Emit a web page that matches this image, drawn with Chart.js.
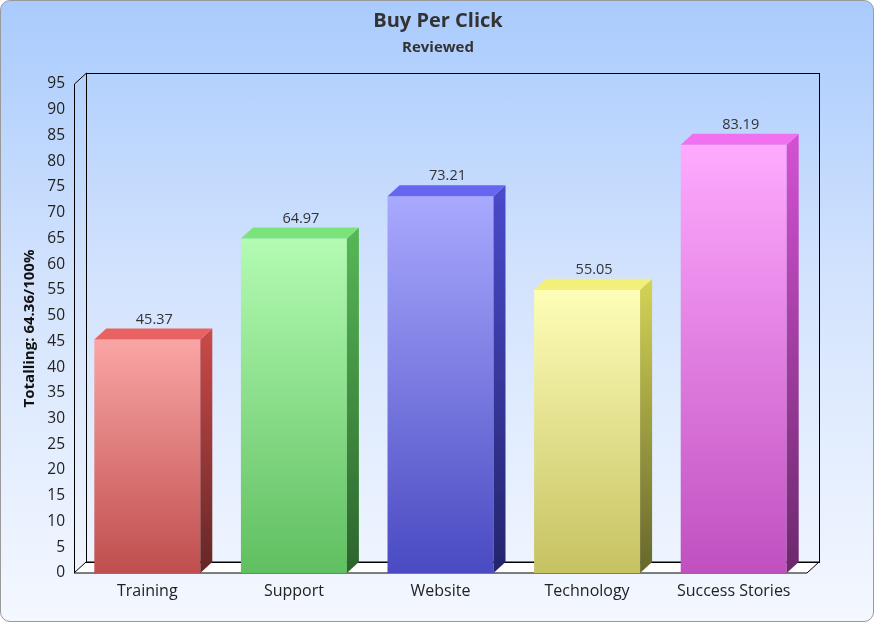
<!DOCTYPE html>
<html>
<head>
<meta charset="utf-8">
<script src="https://cdn.jsdelivr.net/npm/chart.js@4/dist/chart.umd.min.js"></script>
<style>
  body { margin: 0; width: 876px; height: 626px; position: relative; overflow: hidden; background: #fff; }
  #card {
    position: absolute; left: 0; top: 0; width: 872px; height: 620px;
    border: 1px solid #9a9a9a; border-radius: 10px;
    background: linear-gradient(to bottom, #a9cbfd 0%, #d3e3fd 45%, #f4f8ff 100%);
  }
  #chart { position: absolute; left: 0; top: 0; }
</style>
</head>
<body>
<div id="card"></div>
<canvas id="chart" width="876" height="626"></canvas>
<script>
// Data
const categories = ['Training', 'Support', 'Website', 'Technology', 'Success Stories'];
const values = [45.37, 64.97, 73.21, 55.05, 83.19];
const yTicks = [0, 5, 10, 15, 20, 25, 30, 35, 40, 45, 50, 55, 60, 65, 70, 75, 80, 85, 90, 95];
const titleText = 'Buy Per Click';
const subtitleText = 'Reviewed';

// Colors per bar: front gradient (top, bottom), top face, side gradient (top, bottom)
const frontTop = ['#faa5a5', '#b3fbb3', '#a9a9ff', '#fefeb8', '#ffaaff'];
const frontBottom = ['#c04e4e', '#60bf60', '#4a4ac2', '#c6c262', '#c050c0'];
const topFace = ['#e86262', '#7ae47a', '#6666f0', '#f2f07a', '#f070f0'];
const sideTop = ['#cc4a4a', '#56b856', '#4a4acc', '#d4d456', '#d452d4'];
const sideBottom = ['#642626', '#2c642c', '#24246c', '#66662c', '#6c286c'];

const DX = 12, DY = 11;

// Walls, floor, titles and 3D faces of the bars
const threeD = {
    id: 'threeD',
    beforeDatasetsDraw(chart) {
        const { ctx, chartArea: a } = chart;
        ctx.save();
        // titles, centred on the whole card
        ctx.fillStyle = '#333';
        ctx.textAlign = 'center';
        ctx.textBaseline = 'middle';
        ctx.font = 'bold 20px "Open Sans"';
        ctx.fillText(titleText, chart.width / 2, 21);
        ctx.font = 'bold 15px "Open Sans"';
        ctx.fillText(subtitleText, chart.width / 2, 48);

        ctx.lineWidth = 1;
        ctx.strokeStyle = '#000';
        // floor
        ctx.beginPath();
        ctx.moveTo(a.left, a.bottom);
        ctx.lineTo(a.right, a.bottom);
        ctx.lineTo(a.right + DX, a.bottom - DY);
        ctx.lineTo(a.left + DX, a.bottom - DY);
        ctx.closePath();
        ctx.fillStyle = '#ffffff';
        ctx.fill();
        ctx.stroke();
        // back wall
        ctx.strokeRect(a.left + DX + 0.5, a.top - DY + 0.5, a.right - a.left, a.bottom - a.top);
        // left wall
        ctx.beginPath();
        ctx.moveTo(a.left + 0.5, a.bottom);
        ctx.lineTo(a.left + 0.5, a.top);
        ctx.lineTo(a.left + DX + 0.5, a.top - DY);
        ctx.stroke();
        ctx.restore();
    },
    afterDatasetsDraw(chart) {
        const { ctx } = chart;
        const meta = chart.getDatasetMeta(0);
        ctx.save();
        meta.data.forEach((bar, i) => {
            const left = bar.x - bar.width / 2;
            const right = bar.x + bar.width / 2;
            const top = bar.y;
            const base = bar.base;
            // side
            const g = ctx.createLinearGradient(0, top - DY, 0, base);
            g.addColorStop(0, sideTop[i]);
            g.addColorStop(1, sideBottom[i]);
            ctx.fillStyle = g;
            ctx.beginPath();
            ctx.moveTo(right, top);
            ctx.lineTo(right + DX, top - DY);
            ctx.lineTo(right + DX, base - DY);
            ctx.lineTo(right, base);
            ctx.closePath();
            ctx.fill();
            // top
            ctx.fillStyle = topFace[i];
            ctx.beginPath();
            ctx.moveTo(left, top);
            ctx.lineTo(left + DX, top - DY);
            ctx.lineTo(right + DX, top - DY);
            ctx.lineTo(right, top);
            ctx.closePath();
            ctx.fill();
            // value label
            ctx.fillStyle = '#333';
            ctx.font = '14.5px "Open Sans"';
            ctx.textAlign = 'center';
            ctx.textBaseline = 'middle';
            ctx.fillText(values[i].toFixed(2), bar.x + DX / 2 + 1, top - DY - 9);
        });
        ctx.restore();
    }
};

const chart = new Chart(document.getElementById('chart'), {
    type: 'bar',
    data: {
        labels: categories,
        datasets: [{
            data: values,
            borderWidth: 0,
            categoryPercentage: 1,
            barPercentage: 0.723,
            backgroundColor: (c) => {
                const ch = c.chart;
                const i = c.dataIndex;
                if (!ch.chartArea || i === undefined) return frontTop[i || 0];
                const y = ch.scales.y.getPixelForValue(values[i]);
                const g = ch.ctx.createLinearGradient(0, y, 0, ch.chartArea.bottom);
                g.addColorStop(0, frontTop[i]);
                g.addColorStop(1, frontBottom[i]);
                return g;
            }
        }]
    },
    options: {
        responsive: false,
        animation: false,
        layout: { padding: { left: 20, right: 69, top: 84, bottom: 0 } },
        plugins: {
            legend: { display: false },
            tooltip: { enabled: false }
        },
        scales: {
            x: {
                grid: { display: false, drawTicks: false },
                border: { display: false },
                ticks: { color: '#222', font: { family: 'Open Sans', size: 16 }, padding: 9 },
                afterFit: (s) => { s.height = 53; }
            },
            y: {
                min: 0,
                max: 95,
                afterBuildTicks: (s) => { s.ticks = yTicks.map(v => ({ value: v })); },
                grid: { display: false, drawTicks: false },
                border: { display: false },
                ticks: { color: '#222', font: { family: 'Open Sans', size: 15.5 }, padding: 9 },
                title: {
                    display: true,
                    text: 'Totalling: 64.36/100%',
                    color: '#111',
                    font: { family: 'Open Sans', size: 15, weight: 'bold' },
                    padding: 1
                },
                afterFit: (s) => { s.width = 54; }
            }
        }
    },
    plugins: [threeD]
});
</script>
</body>
</html>
